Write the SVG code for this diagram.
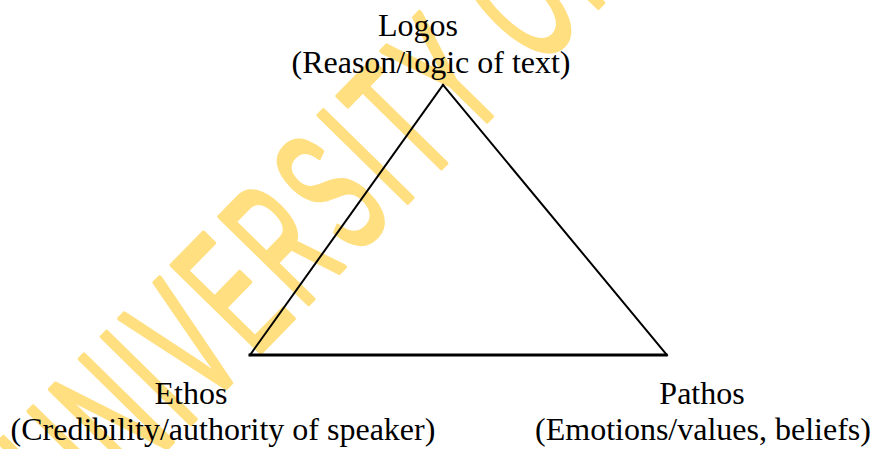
<svg xmlns="http://www.w3.org/2000/svg" width="870" height="449" viewBox="0 0 870 449">
<style>
.lbl{font-family:'Liberation Serif','Times New Roman','DejaVu Serif',serif;font-size:32px;fill:#000;text-anchor:middle}
.wm{font-family:'Liberation Sans',Arial,sans-serif;font-size:180px;fill:#FFDF80;stroke:#FFDF80;stroke-width:4px;stroke-linejoin:round;letter-spacing:16px}
.edge{stroke:#000;fill:none;stroke-linecap:square}
</style>
<rect width="870" height="449" fill="#fff"/>
<g id="watermark">
<text class="wm" transform="translate(82,534.5) rotate(-45.6) scale(0.5,1)" vector-effect="non-scaling-stroke">UNIVERSITY OF</text>
</g>
<g id="connectors">
<line class="edge" x1="443" y1="85" x2="250" y2="355" stroke-width="2"/>
<line class="edge" x1="443" y1="85" x2="667" y2="355" stroke-width="2"/>
<line class="edge" x1="250" y1="355" x2="666" y2="355" stroke-width="3"/>
</g>
<g id="logos">
<text class="lbl" x="418" y="36">Logos</text>
<text class="lbl" x="431" y="73">(Reason/logic of text)</text>
</g>
<g id="ethos">
<text class="lbl" x="191" y="404">Ethos</text>
<text class="lbl" x="223" y="440">(Credibility/authority of speaker)</text>
</g>
<g id="pathos">
<text class="lbl" x="702" y="404">Pathos</text>
<text class="lbl" x="703" y="440">(Emotions/values, beliefs)</text>
</g>
</svg>
